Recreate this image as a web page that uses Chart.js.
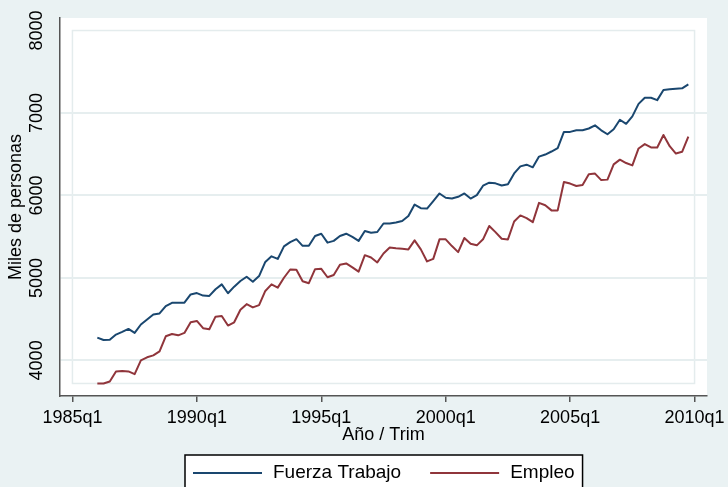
<!DOCTYPE html>
<html>
<head>
<meta charset="utf-8">
<script src="https://cdn.jsdelivr.net/npm/chart.js@4.4.0/dist/chart.umd.min.js"></script>
<style>
	html, body { margin: 0; padding: 0; background: #eaf2f3; }
	#wrap { width: 728px; height: 487px; }
</style>
</head>
<body>
<div id="wrap"><canvas id="laborChart" width="728" height="487"></canvas></div>
<script>
// Quarterly data, 1986q1 - 2009q4 (miles de personas)
const fuerzaTrabajo = [
	4276, 4247, 4250, 4313, 4345, 4381, 4333, 4435, 4496, 4557, 4569, 4658,
	4698, 4700, 4700, 4800, 4816, 4786, 4782, 4862, 4922, 4814, 4894, 4962,
	5014, 4954, 5022, 5194, 5262, 5230, 5382, 5434, 5470, 5389, 5389, 5509,
	5536, 5428, 5449, 5509, 5536, 5497, 5449, 5569, 5548, 5557, 5660, 5660,
	5672, 5690, 5752, 5890, 5846, 5841, 5932, 6024, 5972, 5963, 5984, 6024,
	5963, 6004, 6118, 6155, 6147, 6120, 6135, 6267, 6353, 6373, 6341, 6471,
	6496, 6533, 6574, 6771, 6771, 6791, 6791, 6812, 6850, 6790, 6742, 6803,
	6918, 6869, 6959, 7111, 7185, 7185, 7156, 7279, 7287, 7295, 7299, 7348
];
const empleo = [
	3720, 3720, 3744, 3866, 3872, 3866, 3833, 4000, 4037, 4061, 4110, 4292,
	4320, 4304, 4333, 4463, 4478, 4390, 4378, 4530, 4538, 4422, 4462, 4614,
	4682, 4642, 4670, 4842, 4922, 4882, 5002, 5102, 5100, 4960, 4936, 5106,
	5110, 5008, 5036, 5160, 5176, 5128, 5076, 5276, 5248, 5188, 5296, 5368,
	5360, 5354, 5346, 5456, 5346, 5200, 5231, 5468, 5468, 5386, 5313, 5484,
	5414, 5395, 5468, 5630, 5555, 5475, 5467, 5684, 5758, 5726, 5676, 5910,
	5881, 5819, 5819, 6164, 6144, 6115, 6127, 6258, 6265, 6186, 6192, 6377,
	6434, 6393, 6364, 6570, 6623, 6582, 6582, 6733, 6598, 6508, 6529, 6713
];
const xTickLabels = ["1985q1", "1990q1", "1995q1", "2000q1", "2005q1", "2010q1"];
const yTickValues = [4000, 5000, 6000, 7000, 8000];

// quarter labels 1986q1 ... 2009q4
const quarters = [];
for (let year = 1986; year <= 2009; year++) {
	for (let q = 1; q <= 4; q++) {
		quarters.push(year + "q" + q);
	}
}

// quarters counted from 1985q1
function quarterIndex(label) {
	let parts = label.split("q");
	return (parseInt(parts[0]) - 1985) * 4 + parseInt(parts[1]) - 1;
}

function labelFor(value) {
	for (let i = 0; i < xTickLabels.length; i++) {
		if (quarterIndex(xTickLabels[i]) === value) return xTickLabels[i];
	}
	return "";
}

const fontFamily = "'Liberation Sans', Arial, sans-serif";
Chart.defaults.font.family = fontFamily;
Chart.defaults.color = "#000";

// white plot area + faint inner region border
const plotBackground = {
	id: "plotBackground",
	beforeDraw(chart) {
		const { ctx, chartArea: a, scales } = chart;
		ctx.save();
		ctx.fillStyle = "#ffffff";
		ctx.fillRect(a.left, a.top, a.right - a.left, a.bottom - a.top);
		let allValues = fuerzaTrabajo.concat(empleo);
		let x0 = scales.x.getPixelForValue(quarterIndex(xTickLabels[0]));
		let x1 = scales.x.getPixelForValue(quarterIndex(xTickLabels[xTickLabels.length - 1]));
		let y0 = scales.y.getPixelForValue(Math.min(...allValues));
		let y1 = scales.y.getPixelForValue(yTickValues[yTickValues.length - 1]);
		ctx.strokeStyle = "#e4eced";
		ctx.lineWidth = 1.5;
		ctx.strokeRect(x0, y1, x1 - x0, y0 - y1);
		ctx.restore();
	}
};

// legend in a black outlined box under the axis title
const boxLegend = {
	id: "boxLegend",
	afterDraw(chart) {
		const { ctx, chartArea: a } = chart;
		ctx.save();
		ctx.font = "19px " + fontFamily;
		let lineLen = 69, gap = 11, itemGap = 29, pad = 8;
		let items = chart.data.datasets.map(function (ds) {
			return { text: ds.label, color: ds.borderColor, w: ctx.measureText(ds.label).width };
		});
		let total = pad * 2 + (items.length - 1) * itemGap;
		items.forEach(function (it) { total += lineLen + gap + it.w; });
		let left = Math.round((a.left + a.right) / 2 - total / 2);
		let top = a.bottom + 59;
		ctx.fillStyle = "#ffffff";
		ctx.fillRect(left, top, total, 40);
		ctx.strokeStyle = "#000";
		ctx.lineWidth = 1.5;
		ctx.strokeRect(left, top, total, 40);
		let x = left + pad;
		let cy = top + 18;
		items.forEach(function (it) {
			ctx.strokeStyle = it.color;
			ctx.lineWidth = 2;
			ctx.beginPath();
			ctx.moveTo(x, cy);
			ctx.lineTo(x + lineLen, cy);
			ctx.stroke();
			x += lineLen + gap;
			ctx.fillStyle = "#000";
			ctx.textBaseline = "middle";
			ctx.textAlign = "left";
			ctx.fillText(it.text, x, cy);
			x += it.w + itemGap;
		});
		ctx.restore();
	}
};

new Chart(document.getElementById("laborChart").getContext("2d"), {
	type: "line",
	data: {
		datasets: [
			{
				label: "Fuerza Trabajo",
				data: quarters.map(function (q, i) { return { x: quarterIndex(q), y: fuerzaTrabajo[i] }; }),
				borderColor: "#1a476f",
				borderWidth: 2,
				borderJoinStyle: "round",
				pointRadius: 0,
				tension: 0,
			},
			{
				label: "Empleo",
				data: quarters.map(function (q, i) { return { x: quarterIndex(q), y: empleo[i] }; }),
				borderColor: "#90353b",
				borderWidth: 2,
				borderJoinStyle: "round",
				pointRadius: 0,
				tension: 0,
			},
		],
	},
	options: {
		responsive: false,
		animation: false,
		layout: { padding: { top: 18, right: 21, left: 0, bottom: 0 } },
		scales: {
			x: {
				type: "linear",
				min: -2,
				max: 102,
				afterBuildTicks: function (s) {
					s.ticks = xTickLabels.map(function (l) { return { value: quarterIndex(l) }; });
				},
				afterFit: function (s) {
					s.height = 91;
					s.paddingLeft = 0;
					s.paddingRight = 0;
				},
				grid: { drawOnChartArea: false, drawTicks: true, tickLength: 6, color: "#555", lineWidth: 1.5 },
				border: { color: "#555", width: 1.5 },
				ticks: {
					padding: 5,
					autoSkip: false,
					maxRotation: 0,
					font: { size: 18 },
					callback: function (value) { return labelFor(value); },
				},
				title: { display: true, text: "Año / Trim", font: { size: 18 }, padding: { top: 0, bottom: 41 } },
			},
			y: {
				min: 3568,
				max: 8152,
				afterBuildTicks: function (s) {
					s.ticks = yTickValues.map(function (v) { return { value: v }; });
				},
				afterFit: function (s) {
					s.width = 60;
					s.paddingTop = 0;
					s.paddingBottom = 0;
				},
				grid: {
					drawTicks: false,
					lineWidth: 2,
					color: function (c) {
						return c.tick && c.tick.value === 8000 ? "rgba(0,0,0,0)" : "#e6eeef";
					},
				},
				border: { color: "#555", width: 1.5 },
				ticks: {
					minRotation: 90,
					maxRotation: 90,
					crossAlign: "center",
					padding: 3,
					font: { size: 18 },
					callback: function (value) { return String(value); },
				},
				title: { display: true, text: "Miles de personas", font: { size: 18 }, padding: { top: 5, bottom: 0 } },
			},
		},
		plugins: {
			legend: { display: false },
			tooltip: { enabled: false },
		},
	},
	plugins: [plotBackground, boxLegend],
});
</script>
</body>
</html>
